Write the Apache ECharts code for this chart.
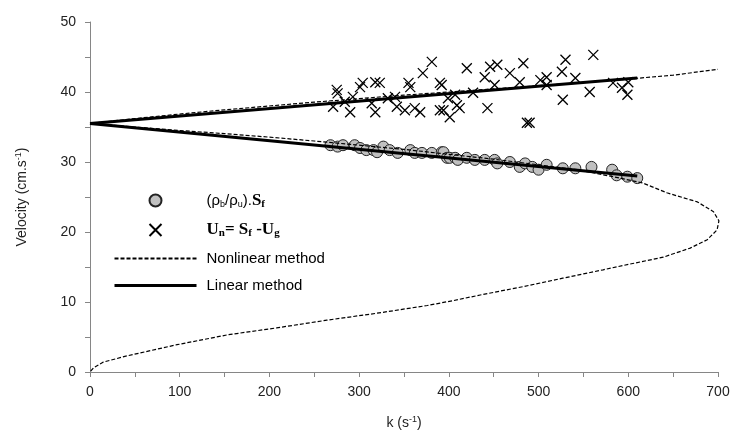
<!DOCTYPE html>
<html><head><meta charset="utf-8">
<script src="https://cdn.jsdelivr.net/npm/echarts@6/dist/echarts.min.js"></script>
<style>html,body{margin:0;padding:0;background:#fff}#c{width:738px;height:436px}</style>
</head><body><div id="c"></div>
<script>
// ---- data ----
var circleK = [268,276,282,295,301,308,316,320,327,334,343,357,362,370,381,392,394,398,401,407,410,420,429,440,451,454,468,479,485,493,500,509,527,541,559,582,587,599,610];
var circleV = [32.4,32.2,32.4,32.4,32.0,31.7,31.7,31.4,32.2,31.7,31.3,31.7,31.3,31.3,31.3,31.4,31.4,30.6,30.6,30.6,30.3,30.6,30.3,30.3,30.3,29.8,30.0,29.3,29.8,29.3,28.9,29.6,29.1,29.1,29.3,28.9,28.1,27.9,27.7];

var crossK = [381,371,275,276,301,304,318,323,355,357,390,271,284,290,293,314,318,332,340,342,351,362,368,390,401,399,409,420,446,454,483,530,561,440,468,526,451,479,502,509,509,541,583,593,600,599,557,527,427,407,412,394,443,487,490,392];
var crossV = [44.3,42.7,40.3,39.8,40.7,41.3,41.4,41.3,41.3,40.7,41.3,37.9,38.6,37.1,39.3,38.4,37.1,39.1,39.3,37.9,37.4,37.7,37.1,37.4,36.4,39.1,38.1,43.4,43.6,43.9,44.1,44.6,45.3,42.1,42.7,42.9,41.0,41.4,41.7,42.1,41.0,42.0,41.3,40.6,41.4,39.6,40.0,38.9,39.9,39.6,37.7,37.4,37.7,35.6,35.6,41.0];

var linUpK = [0,610], linUpV = [35.5,42.0];
var linLoK = [0,610], linLoV = [35.5,28.0];

var nlUpK = [0,50,100,150,200,250,300,350,400,450,500,550,600,650,700];
var nlUpV = [35.5,36.2,36.85,37.45,38.0,38.55,39.05,39.55,40.0,40.45,40.9,41.35,41.85,42.4,43.25];

var nlLoK = [0,50,100,150,200,250,300,350,400,450,500,543,583,616,643,677,695,701,699,688,669,639,605,572,527,483,435,405,376,320,264,208,153,97,41,14.5,4,0];
var nlLoV = [35.5,35.0,34.5,34.05,33.55,33.0,32.4,31.8,31.1,30.4,29.6,28.9,27.9,27.0,25.6,24.3,22.9,21.6,20.3,18.9,17.7,16.4,15.5,14.6,13.4,12.2,11.0,10.2,9.5,8.4,7.4,6.3,5.3,3.9,2.3,1.4,0.6,0];

var xTicks = {min:0, max:700, interval:100};
var yTicks = {min:0, max:50, interval:10};

function zip(a,b){return a.map(function(v,i){return [v,b[i]];});}

var axisGray = '#868686';
var labelFont = 'Liberation Sans';
var chart = echarts.init(document.getElementById('c'));
chart.setOption({
  animation:false,
  backgroundColor:'#fff',
  grid:{left:90, right:20, top:22, bottom:64},
  xAxis:{type:'value', min:xTicks.min, max:xTicks.max, interval:xTicks.interval,
    axisLine:{show:true, onZero:false, lineStyle:{color:axisGray, width:1}},
    axisTick:{show:true, length:5, lineStyle:{color:axisGray}},
    minorTick:{show:true, splitNumber:2, length:5, lineStyle:{color:axisGray}},
    splitLine:{show:false},
    axisLabel:{color:'#222', fontFamily:labelFont, fontSize:14, margin:13},
    name:'{t|k (s}{sup|-1}{t|)}', nameLocation:'middle', nameGap:43,
    nameTextStyle:{rich:{t:{fontFamily:labelFont,fontSize:14,color:'#222',lineHeight:16},
      sup:{fontFamily:labelFont,fontSize:9,color:'#222',lineHeight:10,verticalAlign:'top'}}}
  },
  yAxis:{type:'value', min:yTicks.min, max:yTicks.max, interval:yTicks.interval,
    axisLine:{show:true, lineStyle:{color:axisGray, width:1}},
    axisTick:{show:true, length:5, lineStyle:{color:axisGray}},
    minorTick:{show:true, splitNumber:2, length:5, lineStyle:{color:axisGray}},
    splitLine:{show:false},
    axisLabel:{color:'#222', fontFamily:labelFont, fontSize:14, margin:14},
    name:'{t|Velocity (cm.s}{sup|-1}{t|)}', nameLocation:'middle', nameGap:60,
    nameTextStyle:{rich:{t:{fontFamily:labelFont,fontSize:14,color:'#222',lineHeight:16},
      sup:{fontFamily:labelFont,fontSize:9,color:'#222',lineHeight:10,verticalAlign:'top'}}}
  },
  legend:{
    orient:'vertical', left:108, top:187, itemWidth:82, itemHeight:12, itemGap:12,
    selectedMode:false,
    data:['rhoSf','Un',
      {name:'Nonlinear method', itemStyle:{opacity:0}},
      {name:'Linear method', itemStyle:{opacity:0}, lineStyle:{width:3}}],
    formatter:function(name){
      if(name==='rhoSf') return '{p|}{n|(ρ}{ns|b}{n|/ρ}{ns|u}{n|).}{b|S}{bs|f}';
      if(name==='Un') return '{p|}{b|U}{bs|n}{b|= S}{bs|f}{b| -U}{bs|g}';
      return '{p|}{n|'+name+'}';
    },
    textStyle:{rich:{
      p:{width:5},
      n:{fontFamily:labelFont,fontSize:15,color:'#000',lineHeight:18},
      ns:{fontFamily:labelFont,fontSize:9,color:'#000',lineHeight:10,verticalAlign:'bottom'},
      b:{fontFamily:'Liberation Serif',fontWeight:'bold',fontSize:17,color:'#000',lineHeight:18},
      bs:{fontFamily:'Liberation Serif',fontWeight:'bold',fontSize:11,color:'#000',lineHeight:10,verticalAlign:'bottom'}
    }}
  },
  series:[
    {name:'rhoSf', type:'scatter', data:zip(circleK,circleV), symbol:'circle', symbolSize:11, z:2,
      itemStyle:{color:'#c0c0c0', borderColor:'#222', borderWidth:1, opacity:1}},
    {name:'Un', type:'scatter', data:zip(crossK,crossV), symbol:'path://M0,0L10,10M10,0L0,10', symbolSize:10, z:2,
      itemStyle:{color:'#000', borderColor:'#000', borderWidth:1.3, opacity:1}},
    {name:'Nonlinear method', type:'line', data:zip(nlUpK,nlUpV), symbol:'none', z:3,
      itemStyle:{color:'#000'}, lineStyle:{color:'#000', width:1.2, type:[4,2]}},
    {name:'Nonlinear method', type:'line', data:zip(nlLoK,nlLoV), symbol:'none', z:3,
      itemStyle:{color:'#000'}, lineStyle:{color:'#000', width:1.2, type:[4,2]}},
    {name:'Linear method', type:'line', data:zip(linUpK,linUpV), symbol:'none', z:4,
      itemStyle:{color:'#000'}, lineStyle:{color:'#000', width:3}},
    {name:'Linear method', type:'line', data:zip(linLoK,linLoV), symbol:'none', z:4,
      itemStyle:{color:'#000'}, lineStyle:{color:'#000', width:3}}
  ]
});
</script></body></html>
